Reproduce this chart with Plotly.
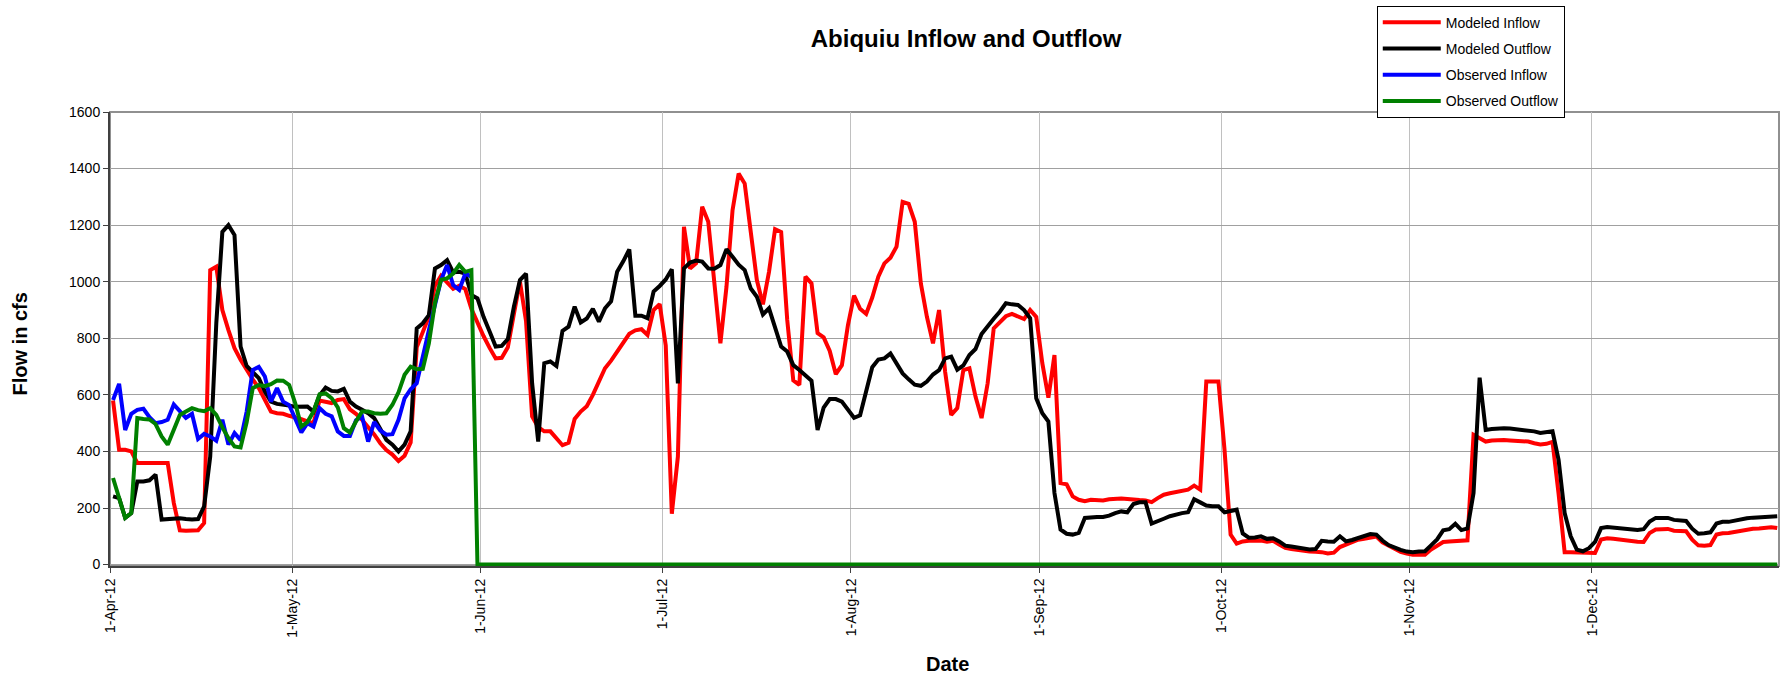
import pandas as pd
import plotly.graph_objects as go

# daily dates, 1-Apr-12 .. 31-Dec-12
dates = pd.date_range("2012-04-01", "2012-12-31", freq="D")

modeled_inflow = [
    580, 406, 406, 400, 359, 359, 359, 359, 361, 359,
    218, 121, 120, 119, 121, 147, 1041, 1053, 900, 829,
    765, 724, 688, 655, 624, 582, 541, 535, 533, 526,
    521, 514, 506, 500, 580, 576, 571, 582, 585, 549,
    533, 512, 488, 460, 429, 405, 389, 366, 385, 432,
    768, 818, 876, 986, 1021, 998, 975, 986, 974, 904,
    852, 808, 766, 729, 731, 768, 886, 1000, 860, 524,
    486, 471, 471, 444, 422, 431, 515, 541, 560, 600,
    649, 694, 721, 752, 786, 816, 828, 832, 812, 900,
    921, 775, 180, 382, 1194, 1047, 1065, 1265, 1212, 1012,
    782, 982, 1253, 1382, 1347, 1176, 1006, 920, 1035, 1186,
    1176, 865, 651, 635, 1018, 994, 818, 803, 755, 673,
    705, 847, 951, 904, 886, 944, 1018, 1065, 1085, 1124,
    1282, 1275, 1212, 994, 876, 782, 900, 682, 529, 553,
    688, 694, 594, 518, 641, 835, 856, 878, 886, 878,
    868, 900, 876, 712, 590, 741, 288, 284, 241, 229,
    224, 229, 228, 227, 231, 233, 234, 232, 229, 228,
    227, 221, 235, 247, 252, 256, 261, 265, 279, 265,
    647, 647, 647, 406, 106, 74, 82, 84, 85, 85,
    81, 84, 71, 59, 55, 51, 47, 46, 45, 44,
    39, 42, 62, 71, 79, 88, 91, 95, 99, 79,
    67, 55, 45, 39, 35, 35, 35, 53, 67, 80,
    82, 84, 85, 86, 459, 447, 435, 439, 441, 440,
    439, 438, 436, 435, 429, 425, 427, 434, 250, 44,
    44, 44, 43, 41, 41, 89, 93, 91, 88, 86,
    84, 81, 80, 112, 124, 126, 126, 120, 118, 118,
    88, 68, 67, 69, 106, 111, 112, 116, 121, 124,
    127, 128, 129, 132, 129,
]

modeled_outflow = [
    241, 235, 165, 182, 294, 294, 298, 318, 159, 161,
    164, 164, 161, 159, 161, 206, 382, 853, 1176, 1200,
    1165, 771, 702, 679, 659, 612, 576, 568, 566, 562,
    558, 558, 559, 541, 598, 626, 614, 612, 621, 576,
    559, 547, 535, 518, 476, 441, 424, 400, 424, 471,
    835, 853, 882, 1047, 1059, 1076, 1033, 1035, 1029, 953,
    941, 876, 824, 771, 773, 797, 912, 1006, 1029, 641,
    435, 712, 718, 702, 826, 841, 912, 856, 870, 904,
    859, 906, 931, 1035, 1072, 1114, 880, 880, 871, 965,
    985, 1008, 1044, 641, 1047, 1068, 1075, 1071, 1047, 1046,
    1059, 1115, 1088, 1060, 1041, 976, 947, 884, 906, 841,
    771, 753, 705, 688, 670, 650, 476, 555, 585, 585,
    576, 548, 519, 528, 608, 698, 725, 729, 746, 712,
    676, 655, 636, 632, 647, 672, 687, 729, 735, 689,
    704, 741, 762, 815, 845, 869, 894, 924, 920, 918,
    900, 871, 588, 535, 506, 253, 124, 109, 106, 112,
    165, 168, 168, 168, 173, 182, 188, 185, 214, 220,
    220, 145, 155, 162, 171, 178, 182, 185, 231, 220,
    209, 206, 206, 185, 188, 194, 110, 95, 96, 100,
    91, 93, 82, 67, 64, 61, 57, 53, 55, 84,
    82, 81, 100, 82, 87, 94, 100, 108, 106, 85,
    69, 59, 52, 46, 44, 46, 47, 68, 89, 121,
    125, 144, 122, 128, 253, 661, 476, 479, 481, 482,
    481, 479, 478, 476, 471, 465, 468, 471, 370, 182,
    100, 53, 47, 58, 80, 129, 133, 131, 128, 127,
    125, 122, 125, 152, 165, 165, 165, 158, 156, 154,
    127, 109, 111, 114, 145, 151, 151, 156, 159, 164,
    166, 167, 168, 168, 171,
]

# observed inflow only recorded 1-Apr .. 30-May
observed_inflow = [
    582, 639, 476, 533, 547, 551, 521, 500, 504, 512,
    566, 541, 519, 533, 444, 462, 453, 438, 512, 424,
    465, 440, 541, 688, 699, 665, 576, 624, 576, 564,
    518, 467, 500, 488, 553, 533, 524, 471, 455, 455,
    510, 524, 435, 504, 474, 459, 461, 512, 588, 620,
    641, 741, 829, 918, 1006, 1059, 988, 971, 1029, 1018,
]

observed_outflow = [
    306, 235, 165, 182, 518, 515, 513, 497, 453, 424,
    476, 529, 541, 553, 546, 542, 553, 529, 485, 447,
    418, 414, 503, 624, 635, 631, 638, 651, 650, 635,
    570, 488, 504, 541, 602, 605, 588, 556, 482, 467,
    506, 541, 541, 535, 533, 535, 565, 609, 671, 700,
    691, 692, 782, 924, 1007, 1012, 1029, 1059, 1035, 1041,
    0, 0, 0, 0, 0, 0, 0, 0, 0, 0, 0, 0, 0, 0, 0, 0, 0, 0, 0, 0, 0, 0, 0, 0, 0,
    0, 0, 0, 0, 0, 0, 0, 0, 0, 0, 0, 0, 0, 0, 0, 0, 0, 0, 0, 0, 0, 0, 0, 0, 0,
    0, 0, 0, 0, 0, 0, 0, 0, 0, 0, 0, 0, 0, 0, 0, 0, 0, 0, 0, 0, 0, 0, 0, 0, 0,
    0, 0, 0, 0, 0, 0, 0, 0, 0, 0, 0, 0, 0, 0, 0, 0, 0, 0, 0, 0, 0, 0, 0, 0, 0,
    0, 0, 0, 0, 0, 0, 0, 0, 0, 0, 0, 0, 0, 0, 0, 0, 0, 0, 0, 0, 0, 0, 0, 0, 0,
    0, 0, 0, 0, 0, 0, 0, 0, 0, 0, 0, 0, 0, 0, 0, 0, 0, 0, 0, 0, 0, 0, 0, 0, 0,
    0, 0, 0, 0, 0, 0, 0, 0, 0, 0, 0, 0, 0, 0, 0, 0, 0, 0, 0, 0, 0, 0, 0, 0, 0,
    0, 0, 0, 0, 0, 0, 0, 0, 0, 0, 0, 0, 0, 0, 0, 0, 0, 0, 0, 0, 0, 0, 0, 0, 0,
    0, 0, 0, 0, 0, 0, 0, 0, 0, 0, 0, 0, 0, 0, 0,
]

month_ticks = pd.date_range("2012-04-01", "2012-12-01", freq="MS")

FONT = "Arial, Liberation Sans, sans-serif"
# Excel plots each day in the middle of its slot
xpos = dates + pd.Timedelta(hours=12)

series = [
    ("Modeled Inflow", modeled_inflow, "#ff0000"),
    ("Modeled Outflow", modeled_outflow, "#000000"),
    ("Observed Inflow", observed_inflow, "#0000ff"),
    ("Observed Outflow", observed_outflow, "#008000"),
]

fig = go.Figure()
for name, vals, col in series:
    fig.add_trace(go.Scatter(
        x=xpos[:len(vals)], y=vals, name=name, mode="lines",
        line=dict(color=col, width=4), legendgroup=name,
    ))

fig.update_layout(
    width=1787, height=680,
    paper_bgcolor="white", plot_bgcolor="white",
    margin=dict(l=110, r=8, t=112, b=114, autoexpand=False),
    font=dict(family=FONT, color="black", size=14),
    title=dict(text="<b>Abiquiu Inflow and Outflow</b>", x=0.5406, xanchor="center",
               y=0.943, yanchor="middle", font=dict(size=24, family=FONT)),
    showlegend=True,
    legend=dict(x=0.759, y=1.234, xanchor="left", yanchor="top",
                bgcolor="white", bordercolor="black", borderwidth=1,
                font=dict(size=14, family=FONT), traceorder="grouped",
                tracegroupgap=5, itemwidth=58, entrywidth=196),
)

fig.update_xaxes(
    range=["2012-04-01", "2012-12-31 19:00"],
    tickvals=month_ticks, tickformat="%-d-%b-%y", tickangle=-90,
    ticks="outside", ticklen=5, tickcolor="#404040",
    showgrid=True, gridcolor="#c0c0c0", gridwidth=1,
    showline=True, linecolor="#404040", linewidth=2,
    tickfont=dict(size=14, family=FONT), zeroline=False,
)
fig.update_yaxes(
    range=[-5, 1600], tickvals=[0, 200, 400, 600, 800, 1000, 1200, 1400, 1600],
    ticks="outside", ticklen=5, tickcolor="#404040",
    showgrid=True, gridcolor="#a0a0a0", gridwidth=1,
    showline=True, linecolor="#404040", linewidth=2,
    tickfont=dict(size=14, family=FONT), zeroline=False,
)

# grey frame on top / right of plot area
fig.add_shape(type="rect", xref="paper", yref="paper", x0=0, y0=0, x1=1, y1=1,
              line=dict(color="#909090", width=2), layer="below")

fig.add_annotation(text="<b>Flow in cfs</b>", xref="paper", yref="paper",
                   x=-0.0539, y=0.488, xanchor="center", yanchor="middle",
                   textangle=-90, showarrow=False,
                   font=dict(size=20, family=FONT))
fig.add_annotation(text="<b>Date</b>", xref="paper", yref="paper",
                   x=0.502, y=-0.2159, xanchor="center", yanchor="middle",
                   showarrow=False, font=dict(size=20, family=FONT))

fig.write_html("out.html", config={"displayModeBar": False},
               post_script=["document.body.style.margin = '0';"])
